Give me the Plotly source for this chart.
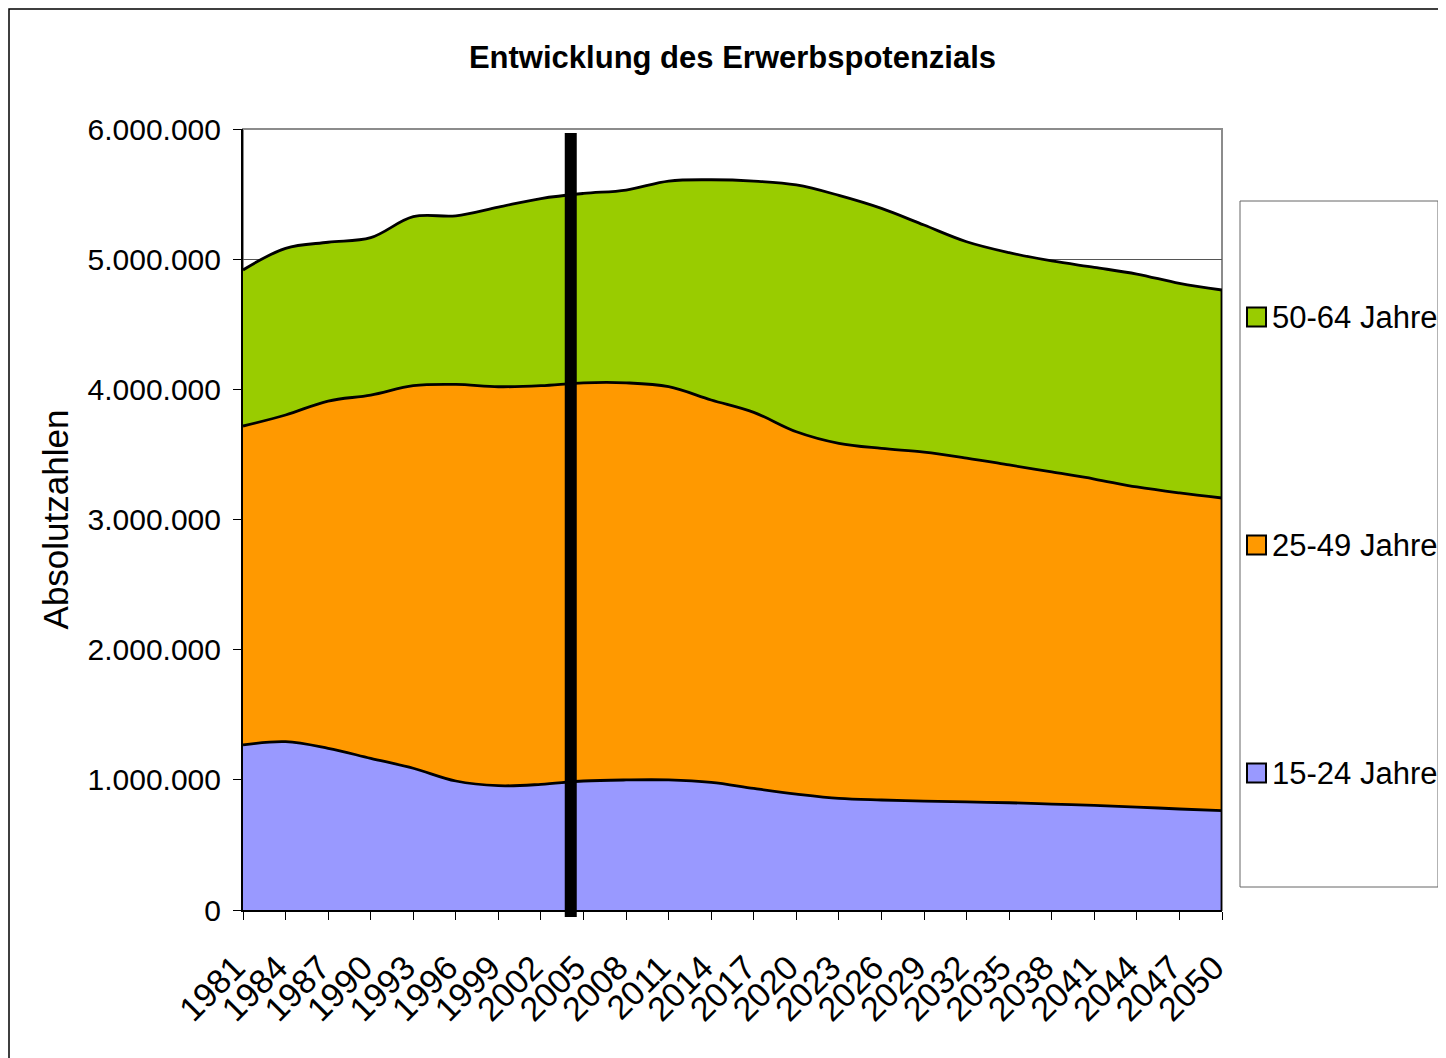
import plotly.graph_objects as go

years = [1981, 1984, 1987, 1990, 1993, 1996, 1999, 2002, 2005, 2008, 2011, 2014,
         2017, 2020, 2023, 2026, 2029, 2032, 2035, 2038, 2041, 2044, 2047, 2050]
tick_labels = [str(y) for y in years]

series_names = ["15-24 Jahre", "25-49 Jahre", "50-64 Jahre"]
series_colors = ["#9999FF", "#FF9900", "#99CC00"]

age_15_24 = [1268000, 1293000, 1242000, 1165000, 1089000, 991000, 955000, 965000,
             991000, 999000, 999000, 980000, 934000, 891000, 857000, 845000,
             837000, 830000, 824000, 814000, 804000, 791000, 776000, 763000]
age_25_49 = [2450000, 2510000, 2668000, 2791000, 2939000, 3047000, 3065000, 3063000,
             3059000, 3051000, 3021000, 2938000, 2889000, 2783000, 2728000, 2701000,
             2681000, 2642000, 2595000, 2551000, 2507000, 2459000, 2428000, 2402000]
age_50_64 = [1199000, 1280000, 1220000, 1209000, 1298000, 1295000, 1380000, 1438000,
             1455000, 1481000, 1580000, 1692000, 1777000, 1896000, 1905000, 1844000,
             1744000, 1662000, 1631000, 1621000, 1626000, 1636000, 1610000, 1598000]
series_values = [age_15_24, age_25_49, age_50_64]

marker_year = 2004.1  # vertical reference line position
y_max = 6000000
y_dtick = 1000000

# page has an 8px body margin: build figure 8px smaller and work in screen coords
OFF = 8
W, H = 1446 - OFF, 1058 - OFF
PLOT_X0, PLOT_X1, PLOT_Y0, PLOT_Y1 = 243, 1222, 129, 910  # screen px
L, T = PLOT_X0 - OFF, PLOT_Y0 - OFF
PW, PH = PLOT_X1 - PLOT_X0, PLOT_Y1 - PLOT_Y0
R, B = W - L - PW, H - T - PH

def px(x):
    return (x - PLOT_X0) / PW

def py(y):
    return (PLOT_Y1 - y) / PH

FONT = "Liberation Sans, Arial, sans-serif"

fig = go.Figure()
for name, color, vals in zip(series_names, series_colors, series_values):
    fig.add_trace(go.Scatter(
        x=years, y=vals, name=name, mode="lines", stackgroup="one",
        line=dict(color="black", width=2.8, shape="spline", smoothing=1.0),
        fillcolor=color, showlegend=False, hoverinfo="x+y+name",
    ))

total_last = sum(v[-1] for v in series_values)

shapes = [
    dict(type="rect", xref="paper", yref="paper", x0=0, x1=1, y0=0, y1=1,
         line=dict(color="#8c8c8c", width=2), layer="below"),
    dict(type="line", xref="x", yref="y", x0=years[-1], x1=years[-1], y0=0, y1=total_last,
         line=dict(color="black", width=2.8)),
    dict(type="line", xref="x", yref="paper", x0=marker_year, x1=marker_year,
         y0=py(917), y1=py(133), line=dict(color="black", width=12)),
    dict(type="rect", xref="paper", yref="paper", x0=px(9), x1=px(1480),
         y0=py(1090), y1=py(9), line=dict(color="black", width=1.5)),
    dict(type="rect", xref="paper", yref="paper", x0=px(1240), x1=px(1438),
         y0=py(887), y1=py(201), line=dict(color="#666666", width=1),
         fillcolor="white"),
]

annotations = []
legend_y = {"50-64 Jahre": 317, "25-49 Jahre": 545, "15-24 Jahre": 773}
for name, color in zip(series_names, series_colors):
    cy = legend_y[name]
    shapes.append(dict(type="rect", xref="paper", yref="paper",
                       x0=px(1247), x1=px(1266), y0=py(cy + 9.5), y1=py(cy - 9.5),
                       fillcolor=color, line=dict(color="black", width=2)))
    annotations.append(dict(text=name, xref="paper", yref="paper", x=px(1270), y=py(cy),
                            xanchor="left", yanchor="middle", showarrow=False,
                            font=dict(family=FONT, size=31, color="black")))

fig.update_layout(
    template="none",
    width=W, height=H,
    margin=dict(l=L, r=R, t=T, b=B),
    paper_bgcolor="white", plot_bgcolor="white",
    separators=",.",
    showlegend=False,
    font=dict(family=FONT, color="black"),
    title=dict(text="<b>Entwicklung des Erwerbspotenzials</b>", x=px(732.5), xanchor="center",
               xref="paper", y=1 - (57 - OFF) / H, yanchor="middle",
               font=dict(family=FONT, size=31, color="black")),
    xaxis=dict(
        range=[years[0], years[-1]], tickmode="array", tickvals=years, ticktext=tick_labels,
        tickangle=-45, ticks="outside", ticklen=8, tickcolor="black", tickwidth=1,
        showline=True, linecolor="black", linewidth=2, showgrid=False, zeroline=False,
        tickfont=dict(family=FONT, size=34, color="black"), automargin=False,
        ticklabelstandoff=14, ticklabelshift=-8,
    ),
    yaxis=dict(
        range=[0, y_max], dtick=y_dtick, tick0=0, tickformat=",d",
        ticks="outside", ticklen=8, tickcolor="black", tickwidth=1,
        showline=True, linecolor="black", linewidth=2,
        showgrid=True, gridcolor="#555555", gridwidth=1, zeroline=False,
        tickfont=dict(family=FONT, size=30, color="black"), automargin=False,
        ticklabelstandoff=6,
        title=dict(text="Absolutzahlen", standoff=8,
                   font=dict(family=FONT, size=35, color="black")),
    ),
    shapes=shapes,
    annotations=annotations,
)

fig.write_html("out.html")
